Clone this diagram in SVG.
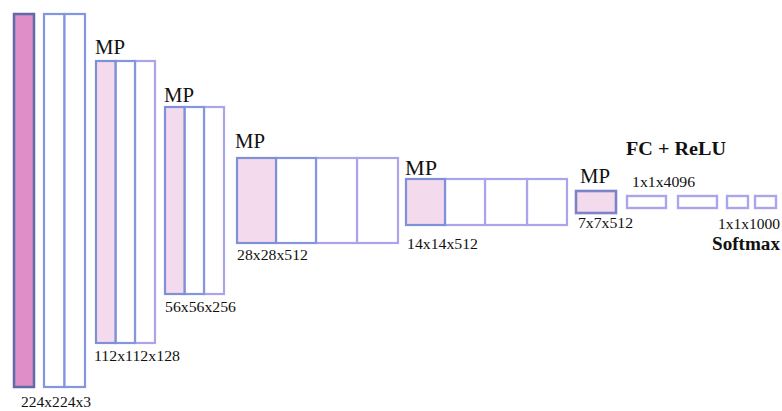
<svg xmlns="http://www.w3.org/2000/svg" width="782" height="411" viewBox="0 0 782 411">
<style>
.bg{fill:#ffffff}
.inp{fill:#df8ec8;stroke:#5f6aa8;stroke-width:2.5}
.pk{fill:#f3dbed;stroke:#7f90d6;stroke-width:2.2}
.wb{fill:#ffffff;stroke:#8496e0;stroke-width:2.2}
.wl{fill:#ffffff;stroke:#a9a4ec;stroke-width:2.2}
.mp6{fill:#f3dbed;stroke:#7c83c6;stroke-width:2.6}
.fc{fill:#ffffff;stroke:#aaa6ee;stroke-width:2.4}
text{font-family:"Liberation Serif","DejaVu Serif",serif;fill:#111111}
.mp{font-size:20px}
.dim{font-size:15px}
.hd{font-size:18px;font-weight:bold}
</style>
<rect class="bg" x="0" y="0" width="782" height="411"/>
<g id="input">
<rect class="inp" x="14" y="14" width="20" height="373"/>
<text class="dim" x="21" y="407" textLength="70" lengthAdjust="spacingAndGlyphs">224x224x3</text>
</g>
<g id="conv1">
<rect class="wb" x="44" y="14" width="20.5" height="373"/>
<rect class="wb" x="64.5" y="14" width="20.5" height="373"/>
</g>
<g id="block2">
<text class="mp" x="95" y="54" textLength="30" lengthAdjust="spacingAndGlyphs">MP</text>
<rect class="wl" x="135" y="61" width="20" height="282"/>
<rect class="wb" x="115.5" y="61" width="19.5" height="282"/>
<rect class="pk" x="96" y="61" width="19.5" height="282"/>
<text class="dim" x="94" y="361" textLength="86" lengthAdjust="spacingAndGlyphs">112x112x128</text>
</g>
<g id="block3">
<text class="mp" x="164" y="102" textLength="30" lengthAdjust="spacingAndGlyphs">MP</text>
<rect class="wl" x="204" y="107" width="20" height="187"/>
<rect class="wb" x="184.5" y="107" width="19.5" height="187"/>
<rect class="pk" x="165" y="107" width="19.5" height="187"/>
<text class="dim" x="165" y="312" textLength="71" lengthAdjust="spacingAndGlyphs">56x56x256</text>
</g>
<g id="block4">
<text class="mp" x="235" y="148" textLength="30" lengthAdjust="spacingAndGlyphs">MP</text>
<rect class="wl" x="357" y="158" width="41" height="85"/>
<rect class="wl" x="316" y="158" width="41" height="85"/>
<rect class="wb" x="276" y="158" width="40" height="85"/>
<rect class="pk" x="237" y="158" width="39" height="85"/>
<text class="dim" x="237" y="260" textLength="71" lengthAdjust="spacingAndGlyphs">28x28x512</text>
</g>
<g id="block5">
<text class="mp" x="405" y="175" textLength="32" lengthAdjust="spacingAndGlyphs">MP</text>
<rect class="wl" x="527" y="179" width="40" height="46"/>
<rect class="wl" x="485" y="179" width="42" height="46"/>
<rect class="wl" x="445" y="179" width="40" height="46"/>
<rect class="pk" x="406" y="179" width="39" height="46"/>
<text class="dim" x="407" y="249" textLength="71" lengthAdjust="spacingAndGlyphs">14x14x512</text>
</g>
<g id="block6">
<text class="mp" x="580" y="183" textLength="30" lengthAdjust="spacingAndGlyphs">MP</text>
<rect class="mp6" x="576" y="191" width="40" height="22"/>
<text class="dim" x="578" y="228" textLength="55" lengthAdjust="spacingAndGlyphs">7x7x512</text>
</g>
<g id="fc">
<text class="hd" x="626" y="155" textLength="100" lengthAdjust="spacingAndGlyphs">FC + ReLU</text>
<text class="dim" x="632" y="187" textLength="63" lengthAdjust="spacingAndGlyphs">1x1x4096</text>
<rect class="fc" x="627" y="196" width="39" height="12"/>
<rect class="fc" x="678" y="196" width="39" height="12"/>
<rect class="fc" x="727" y="196" width="21" height="12"/>
<rect class="fc" x="755" y="196" width="21" height="12"/>
<text class="dim" x="718" y="229" textLength="62" lengthAdjust="spacingAndGlyphs">1x1x1000</text>
<text class="hd" x="712" y="250" textLength="68" lengthAdjust="spacingAndGlyphs">Softmax</text>
</g>
<g id="connectors"></g>
</svg>
